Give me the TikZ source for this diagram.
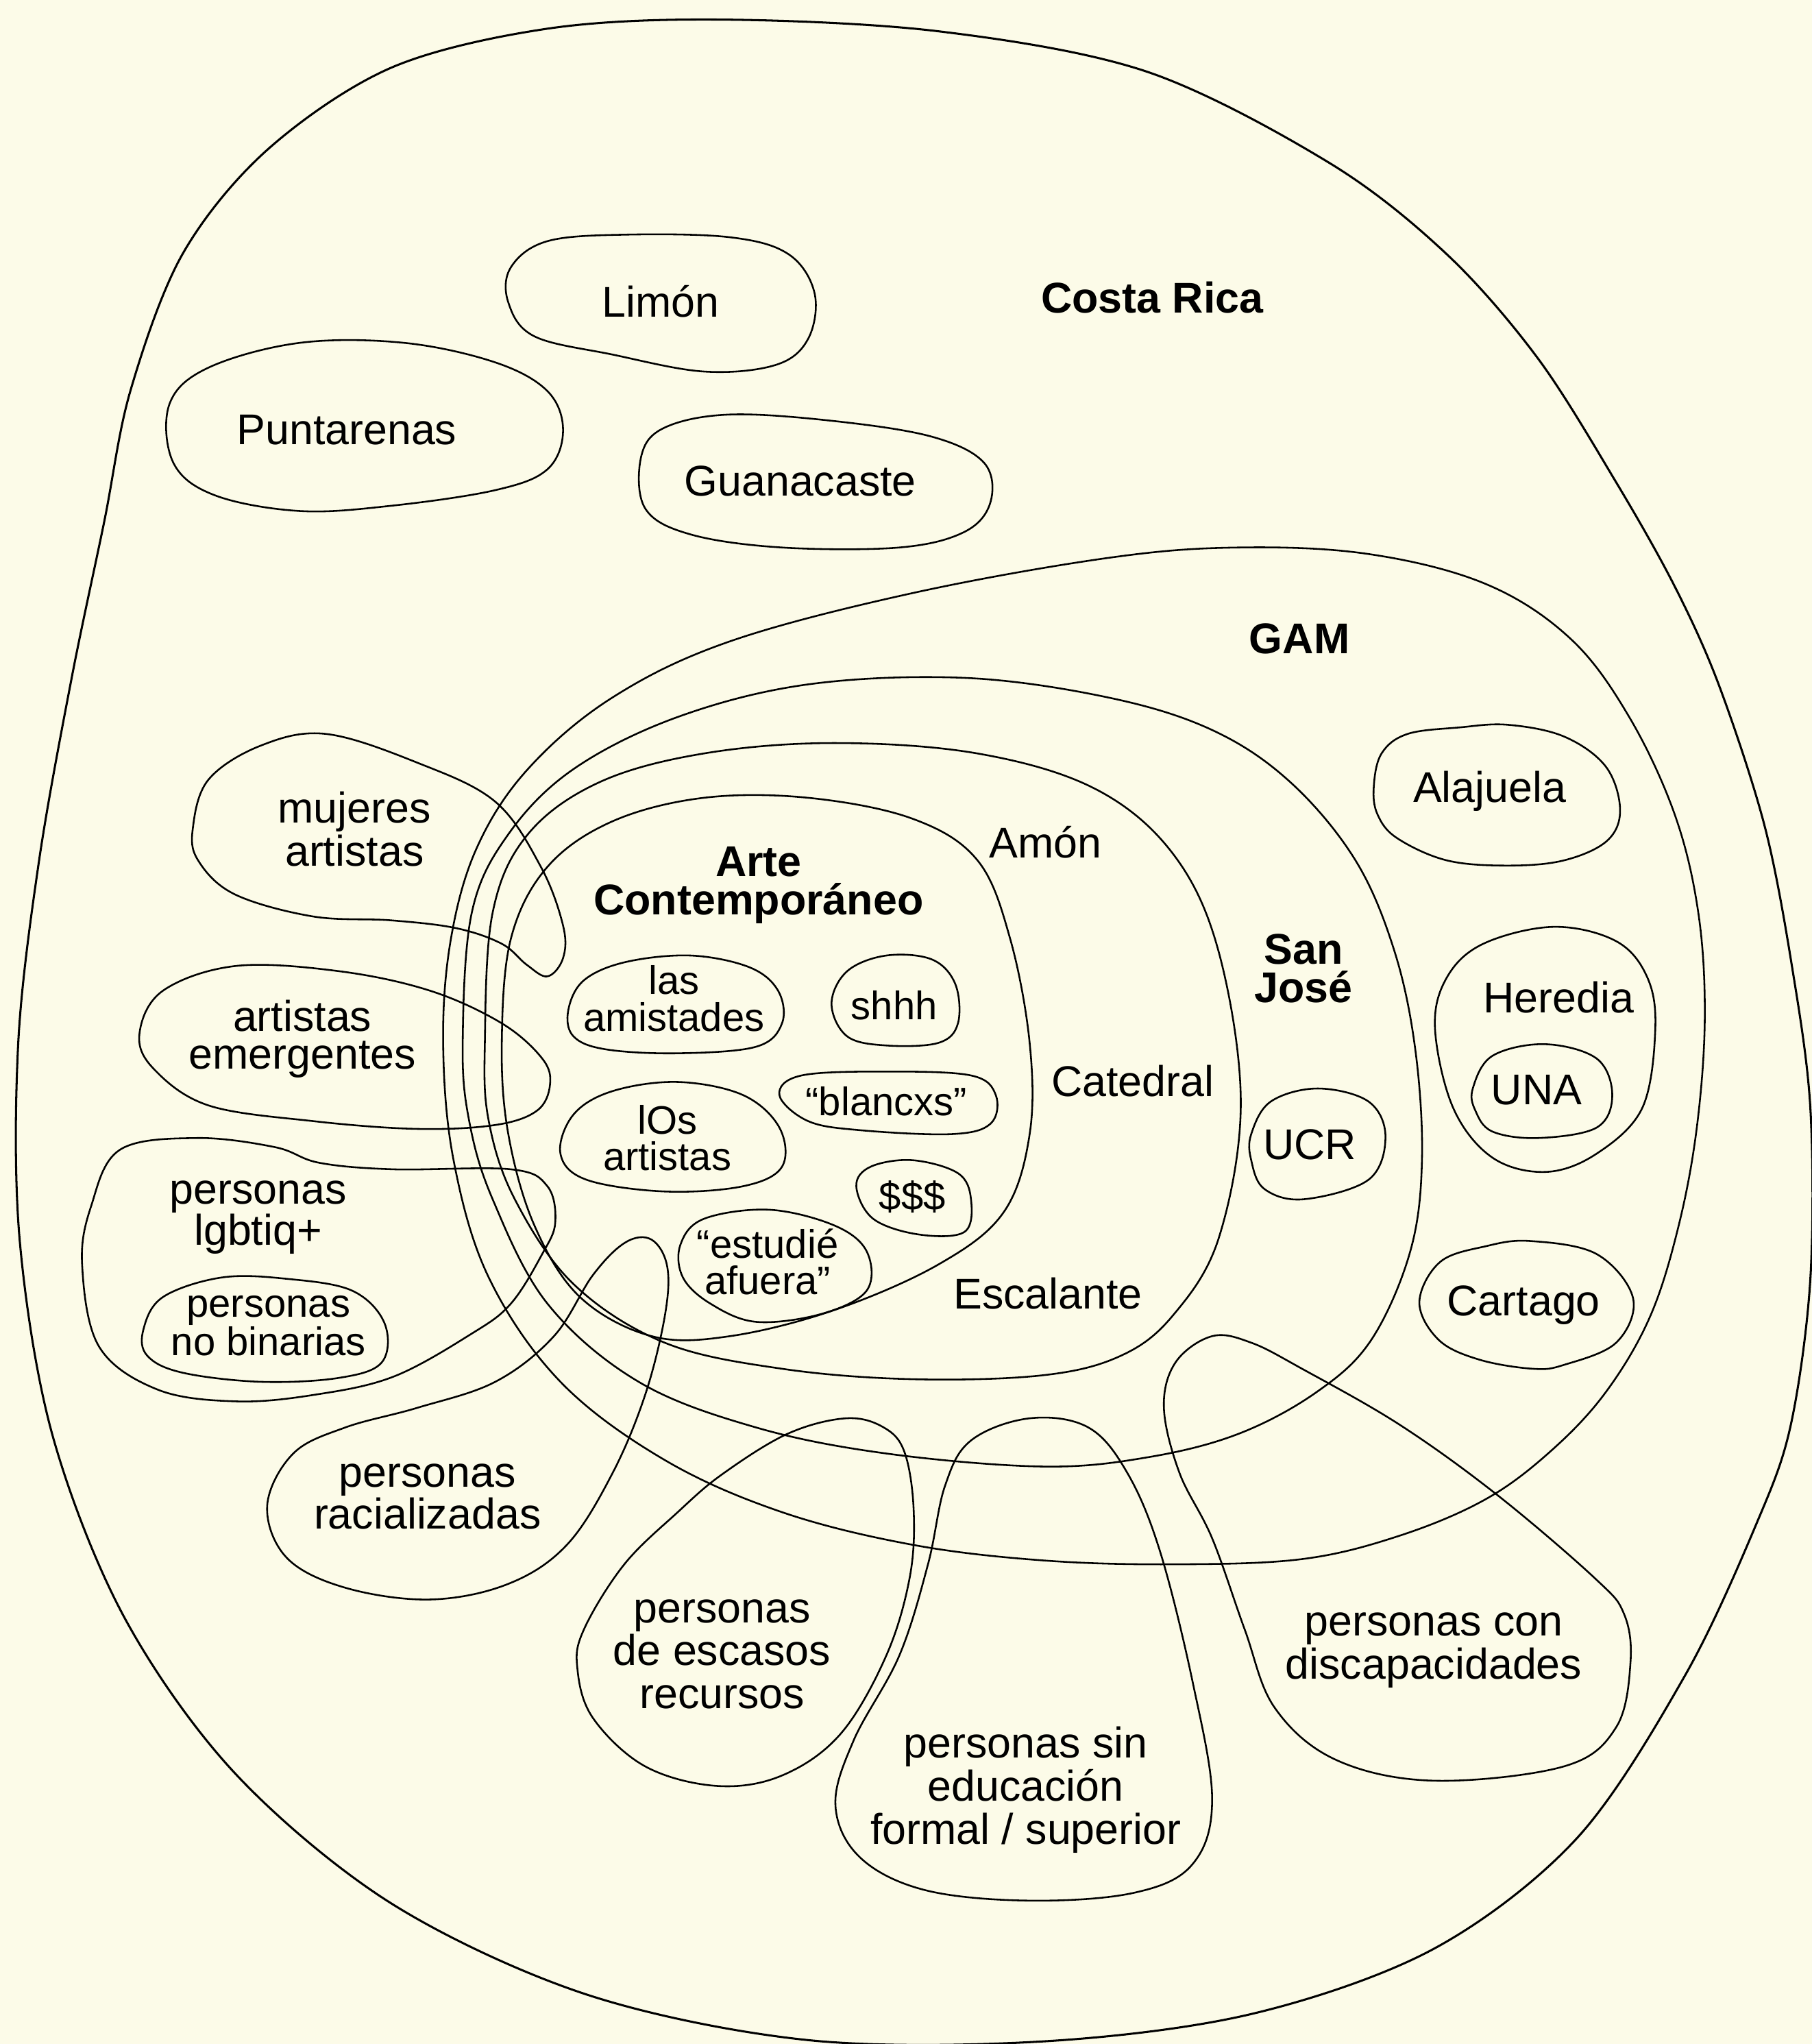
\documentclass[tikz,border=0pt]{standalone}
\usepackage{fontspec}
\setmainfont{Liberation Sans}
\definecolor{bgcream}{RGB}{252,251,232}
\begin{document}
\begin{tikzpicture}[x=1pt,y=-1pt,
  blob/.style={draw=black, line width=1.35pt, line join=round},
  outerblob/.style={draw=black, line width=1.6pt, line join=round},
  lbl/.style={font=\fontsize{33}{28.5}\selectfont, align=center, inner sep=0pt},
  lblwide/.style={font=\fontsize{33}{33}\selectfont, align=center, inner sep=0pt},
  small/.style={font=\fontsize{30.5}{28}\selectfont, align=center, inner sep=0pt},
  bold/.style={font=\fontsize{33}{29.5}\selectfont\bfseries, align=center, inner sep=0pt}]
\useasboundingbox (0,0) rectangle (1390,1568);
\fill[bgcream] (0,0) rectangle (1390,1568);

% Costa Rica
\draw[outerblob] plot[smooth cycle, tension=0.55] coordinates {
 (550,15) (420,22) (300,52) (205,115) (140,195) (100,300) (80,400) (55,520)
 (30,660) (14,800) (15,950) (40,1100) (95,1240) (180,1360) (300,1460) (450,1530)
 (620,1565) (800,1566) (960,1545) (1100,1495) (1210,1410) (1293,1285) (1348,1168)
 (1374,1093) (1389,981) (1389,850) (1375,742) (1354,634) (1319,526) (1285,450)
 (1240,370) (1180,275) (1110,195) (1020,125) (880,55) (720,24)};

% Limon, Puntarenas, Guanacaste
\draw[blob] plot[smooth cycle, tension=0.6] coordinates {
 (392,205) (420,185) (480,180) (560,182) (605,195) (625,225) (620,260) (595,280)
 (540,285) (470,272) (410,258) (390,232)};
\draw[blob] plot[smooth cycle, tension=0.6] coordinates {
 (130,310) (160,282) (230,263) (310,263) (380,278) (420,300) (432,330) (420,360)
 (380,376) (300,388) (230,392) (165,380) (133,355)};
\draw[blob] plot[smooth cycle, tension=0.6] coordinates {
 (492,350) (510,328) (560,318) (640,323) (715,335) (755,355) (760,385) (740,408)
 (690,420) (600,420) (530,410) (495,390)};

% GAM
\draw[blob] plot[smooth cycle, tension=0.6] coordinates {
 (340,800) (346,720) (366,650) (405,590) (470,535) (560,492) (700,455) (850,428)
 (950,420) (1050,425) (1140,448) (1205,490) (1250,550) (1285,625) (1303,700)
 (1308,780) (1302,864) (1288,940) (1266,1010) (1232,1068) (1190,1113) (1140,1150)
 (1074,1178) (999,1196) (900,1200) (800,1197)
 (700,1185) (600,1160) (510,1120) (430,1060) (375,980) (348,890)};
% San Jose
\draw[blob] plot[smooth cycle, tension=0.6] coordinates {
 (355,800) (362,700) (390,640) (440,590) (520,550) (620,525) (740,520) (850,535)
 (930,560) (990,600) (1040,660) (1070,730) (1086,806) (1091,890) (1082,960)
 (1052,1028) (1010,1068) (950,1100)
 (880,1118) (800,1125) (680,1115) (580,1095) (490,1060) (420,1000) (378,920) (360,860)};
% barrio
\draw[blob] plot[smooth cycle, tension=0.6] coordinates {
 (372,800) (378,700) (405,640) (460,600) (540,578) (640,570) (750,578) (840,605)
 (900,655) (935,730) (952,846) (935,950) (900,1009) (860,1040) (800,1055) (700,1058)
 (600,1050) (510,1030) (440,985) (395,920) (375,860)};
% Arte contemporaneo
\draw[blob] plot[smooth cycle, tension=0.6] coordinates {
 (385,800) (392,720) (420,665) (470,630) (540,612) (620,612) (700,628) (750,660)
 (775,720) (790,800) (790,870) (770,930) (720,970) (640,1005) (560,1025) (500,1025)
 (445,995) (410,940) (390,870)};

% inner blobs
\draw[blob] plot[smooth cycle, tension=0.6] coordinates {
 (436,775) (448,752) (480,738) (530,733) (575,742) (597,760) (600,785) (580,803)
 (520,808) (465,805) (440,795)};
\draw[blob] plot[smooth cycle, tension=0.6] coordinates {
 (638,770) (650,745) (680,733) (715,736) (733,755) (735,785) (720,800) (680,802) (650,795)};
\draw[blob] plot[smooth cycle, tension=0.6] coordinates {
 (598,840) (615,825) (680,822) (745,825) (764,840) (760,862) (730,870) (660,867) (620,860)};
\draw[blob] plot[smooth cycle, tension=0.6] coordinates {
 (430,885) (440,855) (470,837) (520,830) (570,840) (598,865) (600,895) (570,910)
 (510,914) (450,905)};
\draw[blob] plot[smooth cycle, tension=0.6] coordinates {
 (657,910) (668,895) (700,890) (735,900) (745,920) (740,945) (705,947) (670,935)};
\draw[blob] plot[smooth cycle, tension=0.6] coordinates {
 (522,955) (540,935) (590,928) (640,940) (665,960) (665,990) (630,1008) (580,1014)
 (545,1000) (524,980)};

% right blobs
\draw[blob] plot[smooth cycle, tension=0.6] coordinates {
 (1054,604) (1060,578) (1080,563) (1120,558) (1157,556) (1200,565) (1232,588)
 (1243,621) (1233,645) (1200,660) (1157,664) (1110,660) (1072,643) (1057,625)};
\draw[blob] plot[smooth cycle, tension=0.6] coordinates {
 (1101,789) (1110,750) (1138,724) (1192,711) (1240,722) (1264,750) (1270,790)
 (1260,850) (1225,885) (1186,899) (1145,888) (1115,850)};
\draw[blob] plot[smooth cycle, tension=0.6] coordinates {
 (1130,835) (1145,810) (1185,801) (1225,812) (1237,840) (1225,865) (1180,873)
 (1145,868) (1132,852)};
\draw[blob] plot[smooth cycle, tension=0.6] coordinates {
 (960,870) (975,845) (1011,835) (1050,845) (1063,872) (1050,905) (1000,920) (970,912) (960,890)};
\draw[blob] plot[smooth cycle, tension=0.6] coordinates {
 (1089,999) (1105,968) (1140,956) (1174,952) (1225,962) (1253,996) (1240,1030)
 (1200,1047) (1176,1050) (1135,1043) (1104,1028)};

% people blobs
\draw[blob] plot[smooth cycle, tension=0.6] coordinates {
 (148,635) (160,598) (200,572) (250,563) (320,585) (380,615) (415,665) (432,710)
 (432,735) (420,749) (404,740) (385,724) (350,712) (300,706) (240,703) (180,686) (152,660)};
\draw[blob] plot[smooth cycle, tension=0.6] coordinates {
 (107,793) (125,760) (181,741) (260,745) (330,760) (385,785) (416,812) (422,832)
 (412,852) (380,863) (320,866) (240,860) (160,848) (118,820)};
\draw[blob] plot[smooth cycle, tension=0.6] coordinates {
 (63,970) (70,925) (92,882) (151,873) (211,880) (245,892) (302,897) (392,897)
 (420,910) (426,938) (416,962) (392,1000) (362,1023) (302,1056) (241,1070)
 (181,1075) (121,1066) (76,1033)};
\draw[blob] plot[smooth cycle, tension=0.6] coordinates {
 (110,1020) (125,995) (170,980) (220,981) (270,990) (295,1015) (293,1045) (260,1057)
 (200,1060) (140,1053) (113,1040)};
\draw[blob] plot[smooth cycle, tension=0.6] coordinates {
 (205,1155) (225,1115) (265,1095) (320,1080) (380,1060) (425,1025) (455,978) (480,953)
 (500,951) (512,972) (510,1010) (495,1070) (470,1130) (435,1185) (390,1215) (330,1227)
 (265,1218) (220,1195)};
\draw[blob] plot[smooth cycle, tension=0.6] coordinates {
 (448,1250) (479,1200) (520,1160) (554,1131) (604,1100) (649,1088) (678,1095) (694,1114)
 (701,1158) (698,1210) (680,1270) (645,1330) (600,1362) (550,1370) (495,1355) (455,1318) (443,1280)};
\draw[blob] plot[smooth cycle, tension=0.6] coordinates {
 (745,1105) (790,1088) (835,1095) (865,1130) (890,1190) (915,1290) (930,1380) (915,1430)
 (870,1452) (790,1458) (710,1450) (660,1425) (641,1385) (655,1335) (690,1270) (712,1200) (725,1140)};
\draw[blob] plot[smooth cycle, tension=0.6] coordinates {
 (893,1080) (902,1045) (930,1025) (960,1030) (999,1050) (1074,1093) (1149,1147) (1224,1211)
 (1246,1238) (1251,1275) (1240,1325) (1200,1355) (1100,1366) (1025,1350) (978,1310)
 (955,1250) (930,1180) (905,1130)};

% labels
\node[bold] (cr) at (884,228) {Costa Rica};
\node[lbl] (limon) at (507,231) {Limón};
\node[lbl] (punta) at (266,330) {Puntarenas};
\node[lbl] (guana) at (614,369) {Guanacaste};
\node[bold] (gam) at (997,490) {GAM};
\node[lbl] (alaj) at (1143,607) {Alajuela};
\node[lbl] (hered) at (1196,765) {Heredia};
\node[lbl] (una) at (1179,836) {UNA};
\node[lbl] (cart) at (1169,1001) {Cartago};
\node[lbl] (ucr) at (1005,878) {UCR};
\node[bold] (sj) at (1000,743) {San\\José};
\node[lbl] (amon) at (802,646) {Amón};
\node[lbl] (cated) at (869,829) {Catedral};
\node[lbl] (escal) at (804,992) {Escalante};
\node[bold] (arte) at (582,679) {Arte\\Contemporáneo};
\node[small] (amist) at (517,766) {las\\amistades};
\node[small] (shhh) at (686,771) {shhh};
\node[small] (blanc) at (680,845) {“blancxs”};
\node[small] (los) at (512,873) {lOs\\artistas};
\node[small] (dol) at (700,918) {\$\$\$};
\node[small] (estud) at (589,968) {“estudié\\afuera”};
\node[lblwide] (muj) at (272,636) {mujeres\\artistas};
\node[lbl] (emerg) at (232,797) {artistas\\emergentes};
\node[lbl] (lgbt) at (198,934) {personas\\lgbtiq+};
\node[small] (nobin) at (206,1017) {personas\\no binarias};
\node[lbl] (racial) at (328,1148) {personas\\racializadas};
\node[lblwide] (escas) at (554,1269) {personas\\de escasos\\recursos};
\node[lblwide] (educ) at (787,1373) {personas sin\\educación\\formal / superior};
\node[lblwide] (disc) at (1100,1266) {personas con\\discapacidades};
\end{tikzpicture}
\end{document}
